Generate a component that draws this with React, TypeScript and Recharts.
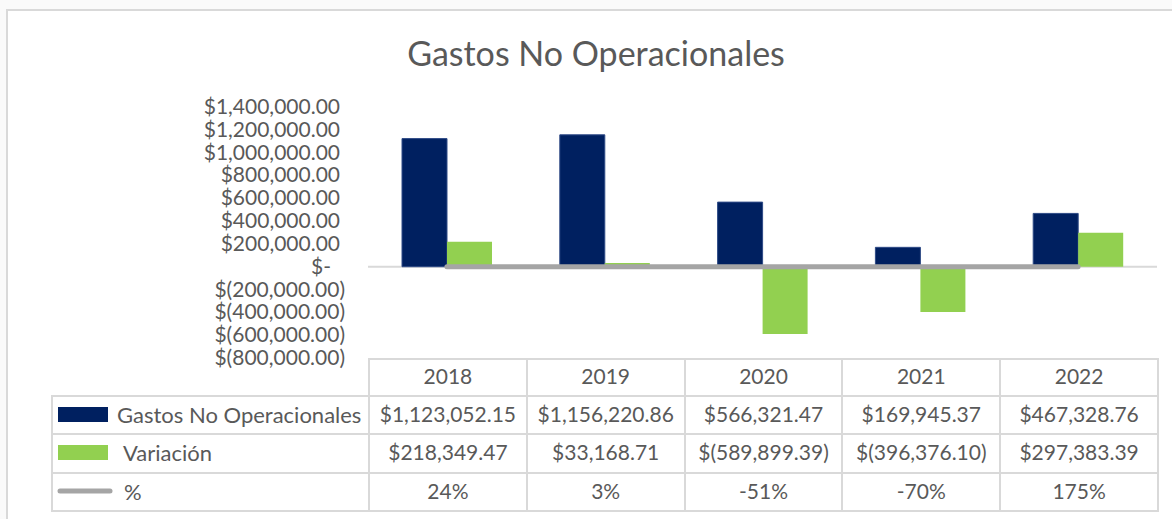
import React from "react";
import { ComposedChart, Bar, Line, XAxis, YAxis, CartesianGrid } from "recharts";

const years = ["2018", "2019", "2020", "2021", "2022"];
const gastos = [1123052.15, 1156220.86, 566321.47, 169945.37, 467328.76];
const variacion = [218349.47, 33168.71, -589899.39, -396376.1, 297383.39];
const pct = [0.24, 0.03, -0.51, -0.7, 1.75];
const yTicks = [1400000, 1200000, 1000000, 800000, 600000, 400000, 200000, 0, -200000, -400000, -600000, -800000];

const NAVY = "#002060";
const GREEN = "#92D050";
const GRAY = "#A5A5A5";
const TEXT = "#595959";
const BORDER = "#D9D9D9";
const FONT = "Lato, 'Open Sans', sans-serif";

const data = years.map((year, i) => ({
  year,
  gastos: gastos[i],
  variacion: variacion[i],
  pct: pct[i],
}));

function money(v: number) {
  if (v === 0) return "$-";
  const s = Math.abs(v).toLocaleString("en-US", { minimumFractionDigits: 2, maximumFractionDigits: 2 });
  return v < 0 ? `$(${s})` : `$${s}`;
}

function YTick(props: any) {
  const { x, y, payload } = props;
  const v = payload.value as number;
  // accounting format: positives leave room for ")", zero is "$-" with padding
  const dx = v < 0 ? 5 : v === 0 ? -9 : 0;
  return (
    <text x={x + dx} y={y} dy={7} textAnchor="end" fill={TEXT} fontSize={21} fontFamily={FONT}>
      {money(v)}
    </text>
  );
}

const cell: React.CSSProperties = {
  border: `2px solid ${BORDER}`,
  textAlign: "center",
  padding: "0 0 4px 0",
  color: TEXT,
  fontSize: 21,
  fontFamily: FONT,
  whiteSpace: "nowrap",
};

function Key({ kind }: { kind: "navy" | "green" | "line" }) {
  if (kind === "line") {
    return (
      <svg width={56} height={10} style={{ verticalAlign: "middle", marginLeft: 4 }}>
        <line x1={3} y1={5} x2={53} y2={5} stroke={GRAY} strokeWidth={5} strokeLinecap="round" />
      </svg>
    );
  }
  return (
    <span
      style={{
        display: "inline-block",
        width: 50,
        height: 15,
        marginLeft: 5,
        background: kind === "navy" ? NAVY : GREEN,
        verticalAlign: "middle",
      }}
    />
  );
}

const rows = [
  { key: "navy" as const, label: "Gastos No Operacionales", values: gastos.map(money), gap: 9, h: 38 },
  { key: "green" as const, label: "Variación", values: variacion.map(money), gap: 15, h: 39 },
  { key: "line" as const, label: "%", values: pct.map((p) => `${Math.round(p * 100)}%`), gap: 11, h: 38 },
];

export default function App() {
  return (
    <div style={{ position: "absolute", left: 0, top: 0, width: 1172, height: 519, background: "#FAFAFA", overflow: "hidden" }}>
      <div
        style={{
          position: "absolute",
          left: 6,
          top: 9,
          width: 1180,
          height: 520,
          border: `2px solid ${BORDER}`,
          background: "#fff",
        }}
      />
      <div
        style={{
          position: "absolute",
          left: 0,
          top: 32,
          width: 1192,
          textAlign: "center",
          color: TEXT,
          fontSize: 34,
          fontFamily: FONT,
        }}
      >
        Gastos No Operacionales
      </div>
      <div style={{ position: "absolute", left: 0, top: 0 }}>
        <ComposedChart width={1172} height={519} data={data} margin={{ top: 107, right: 15, bottom: 161, left: 0 }} barGap={0}>
          <CartesianGrid vertical={false} horizontalValues={[0]} stroke={BORDER} strokeWidth={2} />
          <XAxis dataKey="year" hide />
          <YAxis
            width={368}
            domain={[-800000, 1400000]}
            ticks={yTicks}
            interval={0}
            axisLine={false}
            tickLine={false}
            tickSize={0}
            tickMargin={28}
            tick={<YTick />}
          />
          <Bar dataKey="gastos" fill={NAVY} stroke="#2E4A86" strokeWidth={1} barSize={45} isAnimationActive={false} />
          <Bar dataKey="variacion" fill={GREEN} barSize={45} isAnimationActive={false} />
          <Line
            type="linear"
            dataKey="pct"
            stroke={GRAY}
            strokeWidth={5}
            strokeLinecap="round"
            dot={false}
            activeDot={false}
            isAnimationActive={false}
          />
        </ComposedChart>
      </div>
      <table
        style={{
          position: "absolute",
          left: 51,
          top: 358,
          borderCollapse: "collapse",
          tableLayout: "fixed",
          width: 1106,
        }}
      >
        <colgroup>
          <col style={{ width: 317 }} />
          {years.map((y) => (
            <col key={y} style={{ width: 157.8 }} />
          ))}
        </colgroup>
        <tbody>
          <tr style={{ height: 37 }}>
            <td style={{ ...cell, border: "none" }} />
            {years.map((y) => (
              <td key={y} style={cell}>
                {y}
              </td>
            ))}
          </tr>
          {rows.map((r) => (
            <tr key={r.label} style={{ height: r.h }}>
              <td style={{ ...cell, textAlign: "left", fontSize: 22 }}>
                <Key kind={r.key} />
                <span style={{ marginLeft: r.gap, verticalAlign: "middle" }}>{r.label}</span>
              </td>
              {r.values.map((v, i) => (
                <td key={i} style={cell}>
                  {v}
                </td>
              ))}
            </tr>
          ))}
        </tbody>
      </table>
    </div>
  );
}
